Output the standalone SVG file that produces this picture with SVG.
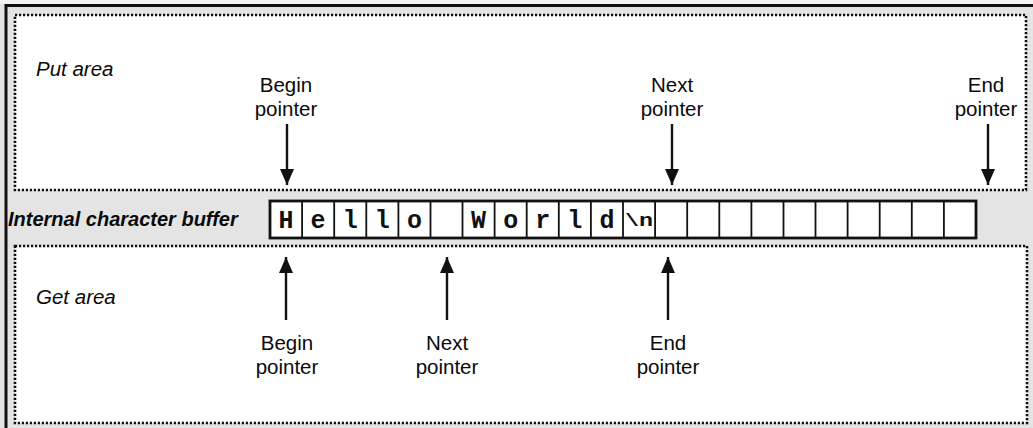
<svg xmlns="http://www.w3.org/2000/svg" width="1033" height="428" viewBox="0 0 1033 428">
<style>
.area{fill:#fff;stroke:#111;stroke-width:2.6;stroke-dasharray:2.2 1.8}
.lbl{font-family:"Liberation Sans",Arial,sans-serif;font-size:20.5px;fill:#0a0a0a;text-anchor:middle}
.ital{font-family:"Liberation Sans",Arial,sans-serif;font-size:20.5px;font-style:italic;fill:#0a0a0a}
.bi{font-family:"Liberation Sans",Arial,sans-serif;font-size:20px;font-style:italic;font-weight:bold;fill:#0a0a0a}
.cell{fill:none;stroke:#111;stroke-width:1.8}
.ch{font-family:"Liberation Mono","Courier New",monospace;font-size:25px;font-weight:bold;fill:#111;text-anchor:middle}
.arr{stroke:#111;stroke-width:2.4;fill:none;marker-end:url(#ah)}
</style>
<defs>
<marker id="ah" markerUnits="userSpaceOnUse" viewBox="0 0 16 14" refX="16" refY="7" markerWidth="16" markerHeight="14" orient="auto">
<path d="M0,0 L16,7 L0,14 z" fill="#111"/>
</marker>
</defs>
<rect x="0" y="0" width="1033" height="428" fill="#e4e4e4"/>
<rect x="0" y="0" width="1033" height="4" fill="#f4f4f4"/>
<path d="M6,428 V5.5 H1033" fill="none" stroke="#111" stroke-width="3"/>

<g id="put-area">
<rect class="area" x="15" y="15" width="1011" height="175"/>
<text class="ital" x="36" y="76">Put area</text>
<text class="lbl" x="286" y="92">Begin</text>
<text class="lbl" x="286" y="116">pointer</text>
<text class="lbl" x="672" y="92">Next</text>
<text class="lbl" x="672" y="116">pointer</text>
<text class="lbl" x="986" y="92">End</text>
<text class="lbl" x="986" y="116">pointer</text>
</g>

<g id="get-area">
<rect class="area" x="15" y="246" width="1012" height="177"/>
<text class="ital" x="36" y="304">Get area</text>
<text class="lbl" x="287" y="350">Begin</text>
<text class="lbl" x="287" y="374">pointer</text>
<text class="lbl" x="447" y="350">Next</text>
<text class="lbl" x="447" y="374">pointer</text>
<text class="lbl" x="668" y="350">End</text>
<text class="lbl" x="668" y="374">pointer</text>
</g>

<g id="buffer">
<text class="bi" x="8" y="226">Internal character buffer</text>
<rect x="270" y="201" width="706" height="37" fill="#fff" stroke="#111" stroke-width="2.8"/>
<path class="cell" d="M302.1,201V238M334.2,201V238M366.3,201V238M398.4,201V238M430.5,201V238M462.5,201V238M494.6,201V238M526.7,201V238M558.8,201V238M590.9,201V238M623,201V238M655.1,201V238M687.2,201V238M719.3,201V238M751.4,201V238M783.5,201V238M815.5,201V238M847.6,201V238M879.7,201V238M911.8,201V238M943.9,201V238"/>
<text class="ch" x="286" y="228">H</text>
<text class="ch" x="318.1" y="228">e</text>
<text class="ch" x="350.2" y="228">l</text>
<text class="ch" x="382.3" y="228">l</text>
<text class="ch" x="414.4" y="228">o</text>
<text class="ch" x="478.6" y="228">W</text>
<text class="ch" x="510.7" y="228">o</text>
<text class="ch" x="542.8" y="228">r</text>
<text class="ch" x="574.8" y="228">l</text>
<text class="ch" x="606.9" y="228">d</text>
<text class="ch" x="639" y="226" style="font-size:18px" textLength="28" lengthAdjust="spacingAndGlyphs">\n</text>
</g>

<g id="connectors">
<line class="arr" x1="287" y1="124" x2="287" y2="185"/>
<line class="arr" x1="672" y1="124" x2="672" y2="185"/>
<line class="arr" x1="988" y1="124" x2="988" y2="185"/>
<line class="arr" x1="286" y1="320" x2="286" y2="257"/>
<line class="arr" x1="447" y1="320" x2="447" y2="257"/>
<line class="arr" x1="668" y1="320" x2="668" y2="257"/>
</g>
</svg>
